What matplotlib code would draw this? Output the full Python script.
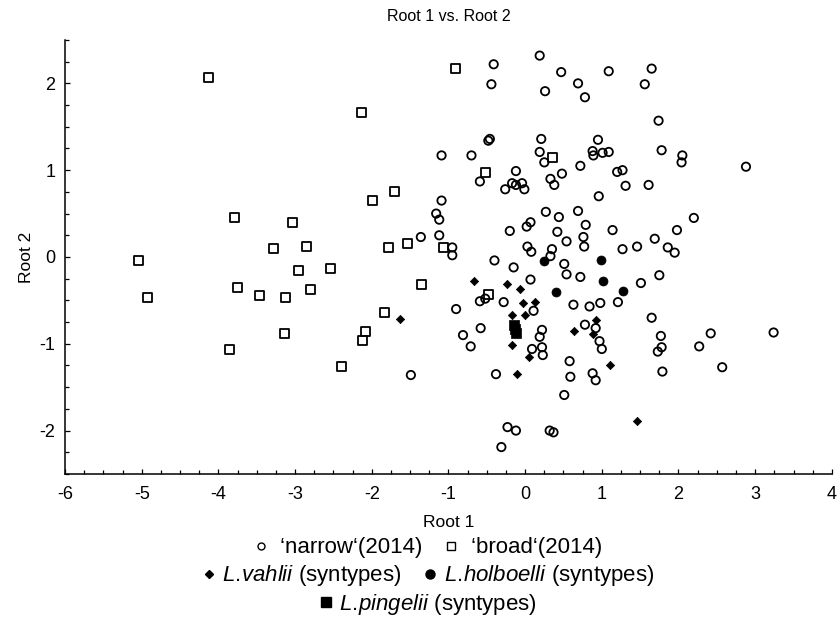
import matplotlib
matplotlib.use('Agg')
import matplotlib.pyplot as plt
from matplotlib.lines import Line2D
from matplotlib.ticker import MultipleLocator

plt.rcParams['font.family'] = ['Liberation Sans', 'DejaVu Sans']
plt.rcParams['mathtext.fontset'] = 'custom'
plt.rcParams['mathtext.rm'] = 'Liberation Sans'
plt.rcParams['mathtext.it'] = 'Liberation Sans:italic'
plt.rcParams['axes.unicode_minus'] = False

# 'narrow' (2014) group
narrow_x = [-0.41, 0.19, -0.44, 0.47, 0.69, 0.26, 0.78, 1.09, -0.46, -0.48,
            0.21, 0.95, -1.09, -0.70, 0.19, 0.25, 0.88, 0.89, 1.01, 1.09,
            0.72, 1.20, 1.27, -0.12, -0.59, -0.26, -0.17, -0.12, -0.04, -0.01,
            0.33, 0.38, 0.48, 0.96, -1.09, -1.16, -1.12, 0.27, 0.44, 0.69,
            0.07, 0.02, -0.20, 0.42, 0.79, 1.14, -1.12, -1.36, 0.76, 1.65,
            1.56, 1.74, 1.78, 2.05, 2.04, 2.88, 1.31, 1.61, 2.20, 1.98,
            1.69, -0.95, -0.95, -0.40, 0.54, 0.77, 0.03, 0.08, 0.35, 0.33,
            1.27, 1.46, 1.86, 1.95, -0.15, 0.51, 0.54, 0.72, 0.07, 1.51,
            1.75, -0.90, -0.59, -0.52, -0.28, 0.11, 0.63, 0.84, 0.98, 1.21,
            1.65, -0.81, -0.58, -0.71, 0.22, 0.19, 0.09, 0.22, 0.23, 0.78,
            0.92, 0.97, 1.00, 1.77, 1.78, 1.73, 2.27, 2.42, 3.24, -0.38,
            0.58, 0.59, 0.88, 0.92, 1.79, 2.57, 0.51, -0.23, -0.12, 0.32,
            0.37, -0.31, -1.49]
narrow_y = [2.22, 2.32, 1.99, 2.13, 2.00, 1.91, 1.84, 2.14, 1.36, 1.34,
            1.36, 1.35, 1.17, 1.17, 1.21, 1.09, 1.22, 1.17, 1.20, 1.21,
            1.05, 0.98, 1.00, 0.99, 0.87, 0.78, 0.85, 0.83, 0.85, 0.78,
            0.90, 0.83, 0.96, 0.70, 0.65, 0.50, 0.43, 0.52, 0.46, 0.53,
            0.40, 0.35, 0.30, 0.29, 0.37, 0.31, 0.25, 0.23, 0.23, 2.17,
            1.99, 1.57, 1.23, 1.17, 1.09, 1.04, 0.82, 0.83, 0.45, 0.31,
            0.21, 0.11, 0.02, -0.04, 0.18, 0.12, 0.12, 0.06, 0.09, 0.01,
            0.09, 0.12, 0.11, 0.05, -0.12, -0.08, -0.20, -0.23, -0.26, -0.30,
            -0.21, -0.60, -0.51, -0.48, -0.52, -0.62, -0.55, -0.57, -0.53, -0.52,
            -0.70, -0.90, -0.82, -1.03, -0.84, -0.92, -1.06, -1.04, -1.13, -0.78,
            -0.82, -0.97, -1.06, -0.91, -1.04, -1.09, -1.03, -0.88, -0.87, -1.35,
            -1.20, -1.38, -1.34, -1.42, -1.32, -1.27, -1.59, -1.96, -2.00, -2.00,
            -2.02, -2.19, -1.36]

# 'broad' (2014) group
broad_x = [-4.13, -2.13, -1.70, -1.99, -3.79, -3.04, -5.04, -4.93, -3.28, -2.85,
           -2.95, -2.54, -3.75, -3.46, -3.13, -2.80, -3.14, -3.85, -1.78, -1.53,
           -1.35, -1.84, -2.08, -2.12, -2.40, -1.06, -0.48, -0.91, 0.36, -0.52]
broad_y = [2.07, 1.67, 0.76, 0.65, 0.46, 0.40, -0.04, -0.47, 0.10, 0.12,
           -0.16, -0.13, -0.35, -0.44, -0.47, -0.38, -0.88, -1.07, 0.11, 0.16,
           -0.32, -0.64, -0.86, -0.96, -1.26, 0.11, -0.43, 2.17, 1.15, 0.97]

# syntypes
vahlii_x = [-0.67, -0.24, -0.07, -0.03, 0.13, -0.17, 0.00, -0.17, 0.05, -0.11,
            0.64, 0.93, 0.88, 1.11, -1.63, 1.46]
vahlii_y = [-0.28, -0.31, -0.37, -0.53, -0.52, -0.67, -0.67, -1.01, -1.15, -1.35,
            -0.85, -0.73, -0.89, -1.25, -0.71, -1.89]
holboelli_x = [0.25, 0.99, 1.02, 0.40, 1.28]
holboelli_y = [-0.05, -0.03, -0.28, -0.40, -0.39]
pingelii_x = [-0.15, -0.13, -0.115]
pingelii_y = [-0.78, -0.825, -0.875]

fig = plt.figure(figsize=(8.39, 6.17), dpi=100)
ax = fig.add_axes([0.0775, 0.2318, 0.914, 0.7034])

lw = 1.3
ax.scatter(narrow_x, narrow_y, s=36, marker='o', facecolors='none',
           edgecolors='black', linewidths=lw, zorder=3)
ax.scatter(broad_x, broad_y, s=42, marker='s', facecolors='none',
           edgecolors='black', linewidths=lw, zorder=3)
ax.scatter(vahlii_x, vahlii_y, s=18, marker='D', color='black',
           linewidths=0.5, zorder=4)
ax.scatter(holboelli_x, holboelli_y, s=42, marker='o', color='black',
           linewidths=0.5, zorder=4)
ax.scatter(pingelii_x, pingelii_y, s=42, marker='s', color='black',
           linewidths=0.5, zorder=4)

ax.set_xlim(-6, 4)
ax.set_ylim(-2.5, 2.5)
ax.xaxis.set_major_locator(MultipleLocator(1))
ax.xaxis.set_minor_locator(MultipleLocator(0.25))
ax.yaxis.set_major_locator(MultipleLocator(1))
ax.yaxis.set_minor_locator(MultipleLocator(0.25))
ax.tick_params(which='both', direction='in', top=False, right=False,
               width=0.9, labelsize=13)
ax.tick_params(which='major', length=3.5)
ax.tick_params(which='minor', length=3)
ax.tick_params(axis='x', pad=9)
ax.tick_params(axis='y', pad=7)
for side in ['top', 'right']:
    ax.spines[side].set_visible(False)
for side in ['left', 'bottom']:
    ax.spines[side].set_linewidth(1.1)

ax.set_title('Root 1 vs. Root 2', fontsize=11.5, pad=14)
ax.set_xlabel('Root 1', fontsize=12.5, labelpad=8)
ax.set_ylabel('Root 2', fontsize=12.5, labelpad=4)

# legend rows below the axes
h_narrow = Line2D([], [], ls='none', marker='o', ms=5, mfc='none', mec='black', mew=1)
h_broad = Line2D([], [], ls='none', marker='s', ms=5.5, mfc='none', mec='black', mew=1)
h_vahlii = Line2D([], [], ls='none', marker='D', ms=4, color='black')
h_holb = Line2D([], [], ls='none', marker='o', ms=6.5, color='black')
h_ping = Line2D([], [], ls='none', marker='s', ms=7, color='black')

rows = [
    ([h_narrow, h_broad],
     [' \u2018narrow\u2018(2014)', ' \u2018broad\u2018(2014)'], 0.112),
    ([h_vahlii, h_holb],
     [r'$\mathit{L.\!vahlii}$ (syntypes)', r'$\mathit{L.\!holboelli}$ (syntypes)'], 0.0665),
    ([h_ping], [r'$\mathit{L.\!pingelii}$ (syntypes)'], 0.021),
]
for handles, labels, ypos in rows:
    fig.legend(handles, labels, loc='center', bbox_to_anchor=(0.51, ypos),
               ncol=len(handles), frameon=False, fontsize=16,
               handlelength=0.6, handletextpad=0.3, columnspacing=1.0,
               borderpad=0, borderaxespad=0)

fig.savefig('out.png', dpi=100)
